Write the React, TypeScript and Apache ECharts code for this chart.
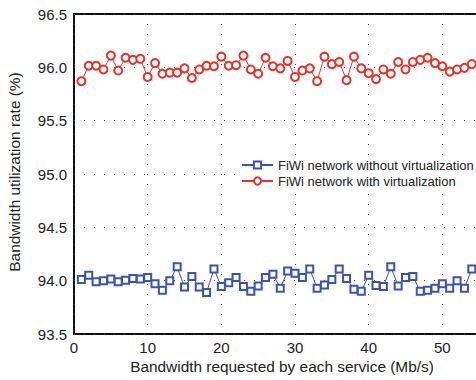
import React, { useEffect, useRef } from "react";
import * as echarts from "echarts";

const bandwidth = [
  1, 2, 3, 4, 5, 6, 7, 8, 9, 10, 11, 12, 13, 14, 15, 16, 17, 18, 19, 20, 21, 22, 23, 24, 25, 26, 27,
  28, 29, 30, 31, 32, 33, 34, 35, 36, 37, 38, 39, 40, 41, 42, 43, 44, 45, 46, 47, 48, 49, 50, 51, 52,
  53, 54,
];

const withoutVirt = [
  94.01, 94.05, 93.99, 94.0, 94.015, 93.99, 94.005, 94.02, 94.015, 94.03, 93.97, 93.91, 94.0, 94.13,
  93.94, 94.04, 93.94, 93.89, 94.11, 93.945, 93.98, 94.03, 93.945, 93.9, 93.95, 94.03, 94.06, 93.93,
  94.09, 94.07, 94.03, 94.11, 93.93, 93.96, 94.01, 94.11, 94.02, 93.92, 93.9, 94.05, 93.955, 93.945,
  94.13, 93.95, 94.03, 94.04, 93.9, 93.91, 93.93, 93.97, 93.93, 94.0, 93.93, 94.11,
];

const withVirt = [
  95.87, 96.015, 96.015, 95.98, 96.11, 95.97, 96.09, 96.07, 96.08, 95.91, 96.04, 95.94, 95.95, 95.95,
  95.99, 95.9, 95.98, 96.015, 96.01, 96.1, 96.015, 96.02, 96.11, 95.98, 95.94, 96.09, 96.01, 95.99,
  96.06, 95.91, 95.97, 95.99, 95.87, 96.1, 96.03, 96.05, 95.88, 96.1, 95.99, 95.945, 95.89, 95.98,
  95.94, 96.05, 95.98, 96.05, 96.07, 96.09, 96.04, 96.01, 95.96, 95.98, 95.995, 96.03,
];

const seriesNames = ["FiWi network without virtualization", "FiWi network with virtualization"];
const xTitle = "Bandwidth requested by each service (Mb/s)";
const yTitle = "Bandwidth utilization rate (%)";

const FONT = "'Liberation Sans', Arial, sans-serif";
const BLUE = "#3a52b4";
const RED = "#e8312a";

export default function App() {
  const ref = useRef<HTMLDivElement>(null);
  useEffect(() => {
    if (!ref.current) return;
    const chart = echarts.init(ref.current, undefined, { renderer: "svg" });
    const dotted = { color: "#444", width: 1, type: [1, 9] as any };
    chart.setOption({
      animation: false,
      backgroundColor: "#fff",
      textStyle: { fontFamily: FONT },
      grid: {
        left: 74,
        top: 14,
        right: 24,
        bottom: 46,
        show: true,
        borderColor: "#111",
        borderWidth: 2,
        containLabel: false,
      },
      xAxis: {
        type: "value",
        min: 0,
        max: 60,
        interval: 10,
        axisLine: { show: false },
        axisTick: { show: false },
        axisLabel: { fontSize: 15, color: "#222", margin: 6, fontFamily: FONT, showMaxLabel: false },
        splitLine: { show: true, lineStyle: dotted },
      },
      yAxis: {
        type: "value",
        min: 93.5,
        max: 96.5,
        interval: 0.5,
        axisLine: { show: false },
        axisTick: { show: false },
        axisLabel: {
          fontSize: 15,
          color: "#222",
          margin: 7,
          fontFamily: FONT,
          formatter: (v: number) => v.toFixed(1),
        },
        splitLine: { show: true, lineStyle: dotted },
      },
      legend: {
        orient: "vertical",
        left: 236,
        top: 155,
        padding: [3, 5, 3, 5],
        backgroundColor: "#fff",
        itemWidth: 31,
        itemHeight: 9,
        itemGap: 2,
        textStyle: { fontSize: 13, color: "#222", fontFamily: FONT, lineHeight: 14 },
        data: seriesNames,
      },
      graphic: [
        {
          type: "text",
          x: 282,
          y: 366,
          style: {
            text: xTitle,
            fontSize: 15.4,
            fontFamily: FONT,
            fill: "#222",
            align: "center",
            verticalAlign: "middle",
          },
        },
        {
          type: "text",
          x: 14,
          y: 172,
          rotation: Math.PI / 2,
          style: {
            text: yTitle,
            fontSize: 15.4,
            fontFamily: FONT,
            fill: "#222",
            align: "center",
            verticalAlign: "middle",
          },
        },
      ],
      series: [
        {
          name: seriesNames[0],
          type: "line",
          data: bandwidth.map((x, i) => [x, withoutVirt[i]]),
          symbol: "emptyRect",
          symbolSize: 7,
          lineStyle: { color: BLUE, width: 1 },
          itemStyle: { color: BLUE, borderWidth: 1 },
        },
        {
          name: seriesNames[1],
          type: "line",
          data: bandwidth.map((x, i) => [x, withVirt[i]]),
          symbol: "emptyCircle",
          symbolSize: 8,
          lineStyle: { color: RED, width: 1 },
          itemStyle: { color: RED, borderWidth: 1 },
        },
      ],
    });
    return () => chart.dispose();
  }, []);
  return (
    <div
      ref={ref}
      style={{ position: "fixed", left: 0, top: 0, width: 540, height: 380, background: "#fff" }}
    />
  );
}
